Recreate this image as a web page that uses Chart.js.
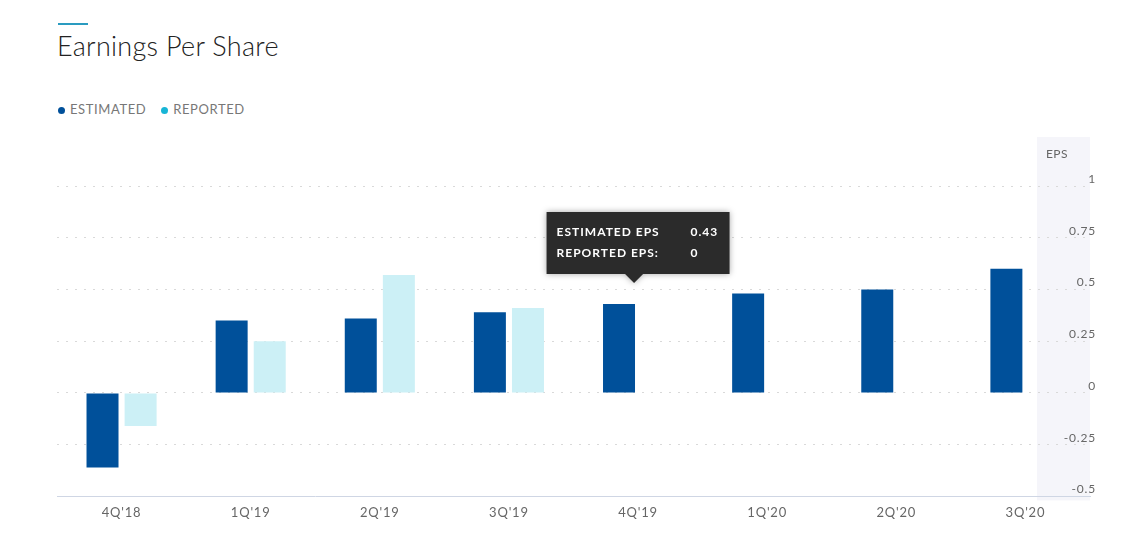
<!DOCTYPE html>
<html>
<head>
<meta charset="utf-8">
<script src="https://cdn.jsdelivr.net/npm/chart.js@4.4.1/dist/chart.umd.min.js"></script>
<style>
  html, body { margin: 0; padding: 0; background: #fff; }
  body { width: 1130px; height: 546px; position: relative; overflow: hidden; font-family: Lato, "Open Sans", sans-serif; }
  .bar-accent { position: absolute; left: 58px; top: 23px; width: 30px; height: 2px; background: #2a9bc0; }
  h1 { position: absolute; left: 57px; top: 29px; margin: 0; font-size: 27px; font-weight: 300; color: #222; letter-spacing: 0.3px; }
  .legend { position: absolute; left: 58px; top: 101px; font-size: 13px; color: #777; letter-spacing: 0.6px; }
  .legend span { display: inline-block; margin-right: 11px; }
  .legend i { display: inline-block; width: 7px; height: 7px; border-radius: 50%; margin-right: 5px; vertical-align: 0px; }
  #wrap { position: absolute; left: 0; top: 0; width: 1130px; height: 546px; }
</style>
</head>
<body>
<div class="bar-accent"></div>
<h1>Earnings Per Share</h1>
<div class="legend">
  <span><i style="background:#00509a"></i>ESTIMATED</span>
  <span><i style="background:#17b5d6"></i>REPORTED</span>
</div>
<div id="wrap"><canvas id="chart"></canvas></div>
<script>
const quarters  = ["4Q'18", "1Q'19", "2Q'19", "3Q'19", "4Q'19", "1Q'20", "2Q'20", "3Q'20"];
const estimated = [-0.36, 0.35, 0.36, 0.39, 0.43, 0.48, 0.50, 0.60];
const reported  = [-0.16, 0.25, 0.57, 0.41, null, null, null, null];
const yTicks    = [-0.5, -0.25, 0, 0.25, 0.5, 0.75, 1];
const tipIndex  = 4;

// light panel behind the right-hand axis labels, with the "EPS" heading
const axisPanel = {
  id: 'axisPanel',
  beforeDraw(chart) {
    const { ctx, chartArea } = chart;
    ctx.save();
    ctx.fillStyle = '#f5f5fa';
    ctx.fillRect(chartArea.right - 53, 137, 53, chartArea.bottom - 137 + 4);
    ctx.fillStyle = '#666';
    ctx.font = '12px Lato, sans-serif';
    ctx.letterSpacing = '0.5px';
    ctx.textAlign = 'center';
    ctx.textBaseline = 'middle';
    ctx.fillText('EPS', chartArea.right - 33, 154);
    ctx.restore();
    ctx.letterSpacing = '0.8px';
  }
};

// fixed tooltip over one quarter
const hoverBox = {
  id: 'hoverBox',
  afterDraw(chart) {
    const { ctx } = chart;
    const bar = chart.getDatasetMeta(0).data[tipIndex];
    const cx  = chart.scales.x.getPixelForValue(tipIndex) - 4;
    const w = 183, h = 62;
    const bottom = bar.y - 30;
    const x = cx - w / 2 + 4, y = bottom - h;

    ctx.save();
    ctx.shadowColor = 'rgba(0,0,0,0.35)';
    ctx.shadowBlur = 6;
    ctx.fillStyle = '#2b2b2b';
    ctx.beginPath();
    ctx.moveTo(x, y);
    ctx.lineTo(x + w, y);
    ctx.lineTo(x + w, bottom);
    ctx.lineTo(cx + 9, bottom);
    ctx.lineTo(cx, bottom + 9);
    ctx.lineTo(cx - 9, bottom);
    ctx.lineTo(x, bottom);
    ctx.closePath();
    ctx.fill();
    ctx.shadowColor = 'transparent';

    ctx.fillStyle = '#fff';
    ctx.font = 'bold 12px Lato, sans-serif';
    ctx.letterSpacing = '1px';
    ctx.textBaseline = 'middle';
    ctx.textAlign = 'left';
    const rep = reported[tipIndex] === null ? 0 : reported[tipIndex];
    ctx.fillText('ESTIMATED EPS', x + 10, y + 20);
    ctx.fillText(String(estimated[tipIndex]), x + 144, y + 20);
    ctx.fillText('REPORTED EPS:', x + 10, y + 41);
    ctx.fillText(String(rep), x + 144, y + 41);
    ctx.restore();
  }
};

new Chart(document.getElementById('chart'), {
  type: 'bar',
  data: {
    labels: quarters,
    datasets: [
      {
        label: 'Estimated',
        data: estimated,
        backgroundColor: '#00509a',
        categoryPercentage: 0.59,
        barPercentage: 0.84,
      },
      {
        label: 'Reported',
        data: reported,
        backgroundColor: '#ccf0f6',
        categoryPercentage: 0.59,
        barPercentage: 0.84,
      },
    ]
  },
  options: {
    responsive: true,
    maintainAspectRatio: false,
    animation: false,
    layout: { padding: { left: 57, right: 40, top: 186, bottom: 24 } },
    plugins: {
      legend: { display: false },
      tooltip: { enabled: false },
    },
    scales: {
      x: {
        grid: { display: false },
        border: { color: '#cfd6e4', width: 1 },
        ticks: { color: '#666', font: { family: 'Lato', size: 13 }, padding: 1 },
      },
      y: {
        position: 'right',
        min: -0.5,
        max: 1,
        afterBuildTicks: axis => { axis.ticks = yTicks.map(v => ({ value: v })); },
        afterFit: axis => { axis.width = 0; },
        grid: { color: '#d9d9d9', drawTicks: false },
        border: { display: false, dash: [2, 7] },
        ticks: {
          mirror: true,
          padding: 6,
          labelOffset: -7,
          color: '#666',
          font: { family: 'Lato', size: 12 },
          callback: v => String(v),
        },
      }
    }
  },
  plugins: [axisPanel, hoverBox]
});
</script>
</body>
</html>
